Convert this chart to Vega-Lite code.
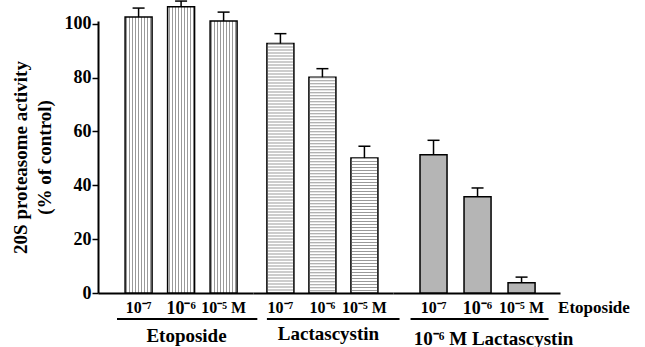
{
  "$schema": "https://vega.github.io/schema/vega-lite/v6.json",
  "background": "white",
  "padding": {"left": 11, "top": 0, "right": 0, "bottom": 0},
  "spacing": 0,
  "bounds": "flush",
  "config": {
    "view": {"stroke": null},
    "font": "Liberation Serif",
    "axisX": {
      "labelFont": "Liberation Serif", "labelFontWeight": "bold", "labelFontSize": 16, "labelColor": "black",
      "labelAngle": 0, "ticks": false, "domainColor": "black", "domainWidth": 2, "labelPadding": 6,
      "titleFont": "Liberation Serif", "titleFontWeight": "bold", "titleFontSize": 19, "titleColor": "black", "titlePadding": 9
    },
    "axisY": {
      "labelFont": "Liberation Serif", "labelFontWeight": "bold", "labelFontSize": 18, "labelColor": "black",
      "domainColor": "black", "domainWidth": 2, "tickColor": "black", "tickWidth": 1.5, "labelPadding": 1,
      "grid": false,
      "titleFont": "Liberation Serif", "titleFontWeight": "bold", "titleFontSize": 19, "titleColor": "black", "titleLineHeight": 24, "titlePadding": 10
    }
  },
  "datasets": {
    "bars": [
      {"group": "Etoposide", "dose": "10⁻⁷", "value": 102.5, "upper": 105.8},
      {"group": "Etoposide", "dose": "10⁻⁶", "value": 106.3, "upper": 108.4},
      {"group": "Etoposide", "dose": "10⁻⁵ M", "value": 101.0, "upper": 104.3},
      {"group": "Lactascystin", "dose": "10⁻⁷", "value": 92.6, "upper": 96.3},
      {"group": "Lactascystin", "dose": "10⁻⁶", "value": 80.1, "upper": 83.3},
      {"group": "Lactascystin", "dose": "10⁻⁵ M", "value": 50.1, "upper": 54.5},
      {"group": "10⁻⁶ M Lactascystin", "dose": "10⁻⁷", "value": 51.3, "upper": 56.7},
      {"group": "10⁻⁶ M Lactascystin", "dose": "10⁻⁶", "value": 35.7, "upper": 39.0},
      {"group": "10⁻⁶ M Lactascystin", "dose": "10⁻⁵ M", "value": 3.8, "upper": 5.9}
    ],
    "groups": [
      {"group": "Etoposide", "first": "10⁻⁷", "last": "10⁻⁵ M"},
      {"group": "Lactascystin", "first": "10⁻⁷", "last": "10⁻⁵ M"},
      {"group": "10⁻⁶ M Lactascystin", "first": "10⁻⁷", "last": "10⁻⁵ M"}
    ],
    "notes": [
      {"label": "Etoposide", "anchor": "10⁻⁵ M"}
    ]
  },
  "hconcat": [
    {
      "width": 155,
      "height": 272,
      "encoding": {
        "x": {
          "field": "dose", "type": "nominal",
          "scale": {"domain": ["10⁻⁷", "10⁻⁶", "10⁻⁵ M"], "paddingInner": 0.365, "paddingOuter": 0.506, "align": 0.63},
          "axis": {
            "title": "Etoposide", "titleX": 88,
            "labelFontSize": {"condition": {"test": "datum.value === '10⁻⁶'", "value": 18}, "value": 16}
          }
        }
      },
      "layer": [
        {
          "data": {"name": "bars"},
          "transform": [{"filter": "datum.group === 'Etoposide'"}],
          "mark": {
            "type": "bar", "stroke": "black", "strokeWidth": 1.5,
            "fill": {
              "gradient": "linear", "x1": 0, "y1": 0, "x2": 1, "y2": 0,
              "stops": [
                {"offset": 0.0370, "color": "#ffffff"}, {"offset": 0.0370, "color": "#999999"}, {"offset": 0.0741, "color": "#999999"}, {"offset": 0.0741, "color": "#ffffff"},
                {"offset": 0.1481, "color": "#ffffff"}, {"offset": 0.1481, "color": "#999999"}, {"offset": 0.1852, "color": "#999999"}, {"offset": 0.1852, "color": "#ffffff"},
                {"offset": 0.2593, "color": "#ffffff"}, {"offset": 0.2593, "color": "#999999"}, {"offset": 0.2963, "color": "#999999"}, {"offset": 0.2963, "color": "#ffffff"},
                {"offset": 0.3704, "color": "#ffffff"}, {"offset": 0.3704, "color": "#999999"}, {"offset": 0.4074, "color": "#999999"}, {"offset": 0.4074, "color": "#ffffff"},
                {"offset": 0.4815, "color": "#ffffff"}, {"offset": 0.4815, "color": "#999999"}, {"offset": 0.5185, "color": "#999999"}, {"offset": 0.5185, "color": "#ffffff"},
                {"offset": 0.5926, "color": "#ffffff"}, {"offset": 0.5926, "color": "#999999"}, {"offset": 0.6296, "color": "#999999"}, {"offset": 0.6296, "color": "#ffffff"},
                {"offset": 0.7037, "color": "#ffffff"}, {"offset": 0.7037, "color": "#999999"}, {"offset": 0.7407, "color": "#999999"}, {"offset": 0.7407, "color": "#ffffff"},
                {"offset": 0.8148, "color": "#ffffff"}, {"offset": 0.8148, "color": "#999999"}, {"offset": 0.8519, "color": "#999999"}, {"offset": 0.8519, "color": "#ffffff"},
                {"offset": 0.9259, "color": "#ffffff"}, {"offset": 0.9259, "color": "#999999"}, {"offset": 0.9630, "color": "#999999"}, {"offset": 0.9630, "color": "#ffffff"}
              ]
            }
          },
          "encoding": {
            "y": {
              "field": "value", "type": "quantitative",
              "scale": {"domain": [0, 101], "nice": false},
              "axis": {
                "title": ["20S proteasome activity", "(% of control)"],
                "values": [0, 10, 20, 30, 40, 50, 60, 70, 80, 90, 100],
                "labelExpr": "datum.value % 20 === 0 ? datum.label : ''",
                "tickSize": {"condition": {"test": "datum.value % 20 === 0", "value": 6}, "value": 3}
              }
            }
          }
        },
        {
          "data": {"name": "bars"},
          "transform": [{"filter": "datum.group === 'Etoposide'"}],
          "mark": {"type": "rule", "strokeWidth": 1.5, "color": "black"},
          "encoding": {"y": {"field": "value", "type": "quantitative"}, "y2": {"field": "upper"}}
        },
        {
          "data": {"name": "bars"},
          "transform": [{"filter": "datum.group === 'Etoposide'"}],
          "mark": {"type": "tick", "orient": "horizontal", "size": 12, "thickness": 1.5, "color": "black", "opacity": 1},
          "encoding": {"y": {"field": "upper", "type": "quantitative"}}
        },
        {
          "data": {"name": "groups"},
          "transform": [{"filter": "datum.group === 'Etoposide'"}],
          "mark": {"type": "rule", "strokeWidth": 2, "color": "black"},
          "encoding": {
            "x": {"field": "first", "type": "nominal", "bandPosition": -0.3},
            "x2": {"field": "last", "bandPosition": 1.75},
            "y": {"datum": -9.65}
          }
        }
      ]
    },
    {
      "width": 140,
      "height": 272,
      "encoding": {
        "x": {
          "field": "dose", "type": "nominal",
          "scale": {"domain": ["10⁻⁷", "10⁻⁶", "10⁻⁵ M"], "paddingInner": 0.357, "paddingOuter": 0.345, "align": 0.48},
          "axis": {"title": "Lactascystin", "titleX": 75}
        }
      },
      "layer": [
        {
          "data": {"name": "bars"},
          "transform": [{"filter": "datum.group === 'Lactascystin'"}],
          "mark": {"type": "bar", "fill": "white", "stroke": "black", "strokeWidth": 1.5},
          "encoding": {"y": {"field": "value", "type": "quantitative", "scale": {"domain": [0, 101], "nice": false}, "axis": null}}
        },
        {
          "data": {"name": "bars"},
          "transform": [{"filter": "datum.group === 'Lactascystin'"}],
          "mark": {"type": "rule", "strokeWidth": 25, "strokeDash": [1, 2], "strokeCap": "butt", "color": "#999999"},
          "encoding": {"y": {"field": "value", "type": "quantitative"}, "y2": {"datum": 0.4}}
        },
        {
          "data": {"name": "bars"},
          "transform": [{"filter": "datum.group === 'Lactascystin'"}],
          "mark": {"type": "rule", "strokeWidth": 1.5, "color": "black"},
          "encoding": {"y": {"field": "value", "type": "quantitative"}, "y2": {"field": "upper"}}
        },
        {
          "data": {"name": "bars"},
          "transform": [{"filter": "datum.group === 'Lactascystin'"}],
          "mark": {"type": "tick", "orient": "horizontal", "size": 12, "thickness": 1.5, "color": "black", "opacity": 1},
          "encoding": {"y": {"field": "upper", "type": "quantitative"}}
        },
        {
          "data": {"name": "groups"},
          "transform": [{"filter": "datum.group === 'Lactascystin'"}],
          "mark": {"type": "rule", "strokeWidth": 2, "color": "black"},
          "encoding": {
            "x": {"field": "first", "type": "nominal", "bandPosition": 0},
            "x2": {"field": "last", "bandPosition": 1.8},
            "y": {"datum": -9.65}
          }
        }
      ]
    },
    {
      "width": 167,
      "height": 272,
      "encoding": {
        "x": {
          "field": "dose", "type": "nominal",
          "scale": {"domain": ["10⁻⁷", "10⁻⁶", "10⁻⁵ M"], "paddingInner": 0.386, "paddingOuter": 0.59, "align": 0.52},
          "axis": {
            "title": "10⁻⁶ M Lactascystin", "titleX": 100, "titlePadding": 12,
            "labelFontSize": {"condition": {"test": "datum.value === '10⁻⁶'", "value": 18}, "value": 16}
          }
        }
      },
      "layer": [
        {
          "data": {"name": "bars"},
          "transform": [{"filter": "datum.group === '10⁻⁶ M Lactascystin'"}],
          "mark": {"type": "bar", "fill": "#b5b5b5", "stroke": "black", "strokeWidth": 1.5},
          "encoding": {"y": {"field": "value", "type": "quantitative", "scale": {"domain": [0, 101], "nice": false}, "axis": null}}
        },
        {
          "data": {"name": "bars"},
          "transform": [{"filter": "datum.group === '10⁻⁶ M Lactascystin'"}],
          "mark": {"type": "rule", "strokeWidth": 1.5, "color": "black"},
          "encoding": {"y": {"field": "value", "type": "quantitative"}, "y2": {"field": "upper"}}
        },
        {
          "data": {"name": "bars"},
          "transform": [{"filter": "datum.group === '10⁻⁶ M Lactascystin'"}],
          "mark": {"type": "tick", "orient": "horizontal", "size": 12, "thickness": 1.5, "color": "black", "opacity": 1},
          "encoding": {"y": {"field": "upper", "type": "quantitative"}}
        },
        {
          "data": {"name": "groups"},
          "transform": [{"filter": "datum.group === '10⁻⁶ M Lactascystin'"}],
          "mark": {"type": "rule", "strokeWidth": 2, "color": "black"},
          "encoding": {
            "x": {"field": "first", "type": "nominal", "bandPosition": -0.35},
            "x2": {"field": "last", "bandPosition": 1.5},
            "y": {"datum": -9.65}
          }
        },
        {
          "data": {"name": "notes"},
          "mark": {"type": "text", "align": "left", "baseline": "middle", "dx": 23, "font": "Liberation Serif", "fontWeight": "bold", "fontSize": 17, "color": "black"},
          "encoding": {
            "x": {"field": "anchor", "type": "nominal", "bandPosition": 1},
            "y": {"datum": -5.6},
            "text": {"field": "label"}
          }
        }
      ]
    }
  ]
}
